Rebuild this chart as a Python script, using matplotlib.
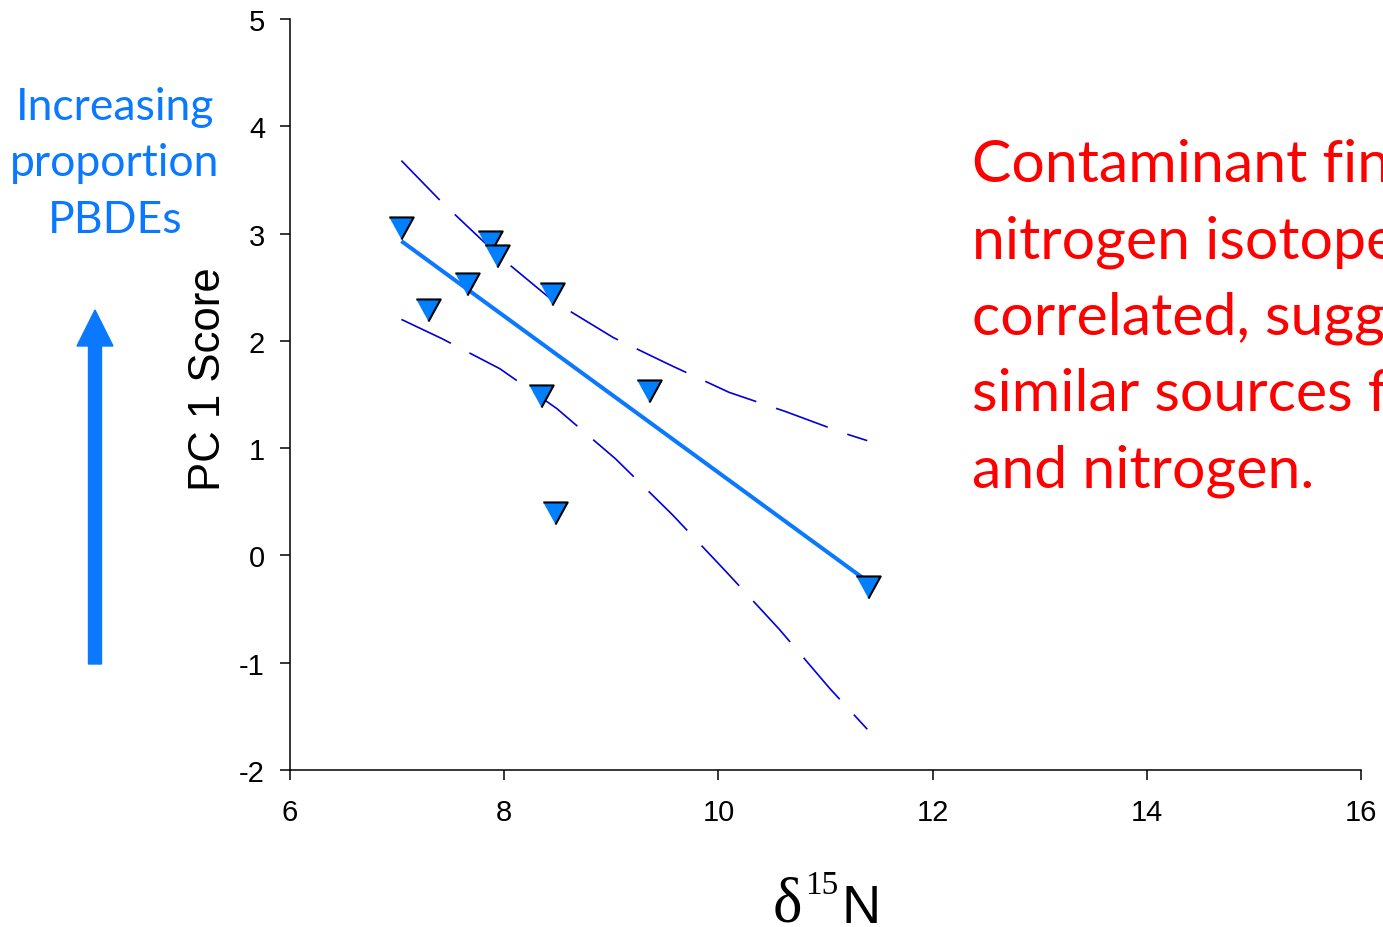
import matplotlib
matplotlib.use("Agg")
import matplotlib.pyplot as plt
from matplotlib.patches import FancyArrow

plt.rcParams["axes.unicode_minus"] = False

# PC1 score vs d15N
d15n = [7.04, 7.29, 7.65, 7.87, 7.93, 8.45, 8.34, 9.35, 8.47, 11.40]
pc1 = [3.05, 2.29, 2.53, 2.92, 2.79, 2.44, 1.49, 1.53, 0.40, -0.29]

# regression line end points
fit_x = [7.04, 11.39]
fit_y = [2.93, -0.24]

# 95% confidence bands (dashed)
band_x = [7.04, 7.41, 7.94, 8.46, 9.02, 9.56, 10.10, 10.63, 11.17, 11.39]
upper_y = [3.68, 3.30, 2.80, 2.37, 2.03, 1.77, 1.52, 1.34, 1.14, 1.07]
lower_x = [7.04, 7.42, 7.96, 8.49, 9.04, 9.57, 10.08, 10.57, 11.04, 11.39]
lower_y = [2.20, 2.02, 1.74, 1.37, 0.90, 0.38, -0.16, -0.69, -1.24, -1.62]

xticks = [6, 8, 10, 12, 14, 16]
yticks = [-2, -1, 0, 1, 2, 3, 4, 5]

W, H = 1383, 928
fig = plt.figure(figsize=(W / 100, H / 100), dpi=100)
ax = fig.add_axes([290 / W, 1 - 771 / H, (1361 - 290) / W, (771 - 20) / H])

blue = "#0a78ff"
dash = (0, (33, 12.5))

ax.plot(band_x, upper_y, color="#0000dd", lw=1.2, linestyle=dash)
ax.plot(lower_x, lower_y, color="#0000dd", lw=1.2, linestyle=dash)
ax.plot(fit_x, fit_y, color=blue, lw=2.9, solid_capstyle="butt")

tri = [(-1.1, 1), (1.1, 1), (0, -1)]
ax.plot(d15n, pc1, linestyle="none", marker=tri, ms=17.5, mfc="#0080ff",
        mec="black", mew=1.5, zorder=5)

ax.set_xlim(6, 16)
ax.set_ylim(-2, 5)
ax.set_xticks(xticks)
ax.set_yticks(yticks)
ax.spines["top"].set_visible(False)
ax.spines["right"].set_visible(False)
for s in ["left", "bottom"]:
    ax.spines[s].set_linewidth(1.1)
ax.tick_params(direction="out", length=7, width=1.1, labelsize=21)
ax.tick_params(axis="x", pad=13)
ax.tick_params(axis="y", pad=11)
for lab in ax.get_xticklabels() + ax.get_yticklabels():
    lab.set_fontfamily("Liberation Sans")

# axis titles
fig.text(208 / W, 1 - 379 / H, "PC 1 Score", rotation=90, ha="center", va="center",
         fontsize=31.5, family="Liberation Sans")
fig.text(773 / W, 1 - 922 / H, "\u03b4", fontsize=45, family="Liberation Serif", va="baseline")
fig.text(805 / W, 1 - 894 / H, "15", fontsize=24, family="Liberation Serif", va="baseline")
fig.text(842 / W, 1 - 923 / H, "N", fontsize=39, family=["Liberation Sans Narrow", "Liberation Sans"],
         va="baseline")

# left annotation + arrow
for txt, base in [("Increasing", 120), ("proportion", 176), ("PBDEs", 233)]:
    fig.text(115 / W, 1 - base / H, txt, ha="center", va="baseline", color=blue,
             fontsize=32, family="Lato")
fig.patches.append(FancyArrow(95 / W, 1 - 665 / H, 0, (665 - 311) / H, width=13 / W,
                              head_width=36 / W, head_length=36 / H,
                              length_includes_head=True, color=blue,
                              transform=fig.transFigure, figure=fig))

# red message (runs off the slide edge)
lines = ["Contaminant fingerprints and", "nitrogen isotopes are",
         "correlated, suggesting", "similar sources for contaminants",
         "and nitrogen."]
for i, txt in enumerate(lines):
    fig.text(972 / W, 1 - (182 + 76.3 * i) / H, txt, va="baseline", color="#ff0000",
             fontsize=42.5, family="Lato")

fig.savefig("out.png", dpi=100)
